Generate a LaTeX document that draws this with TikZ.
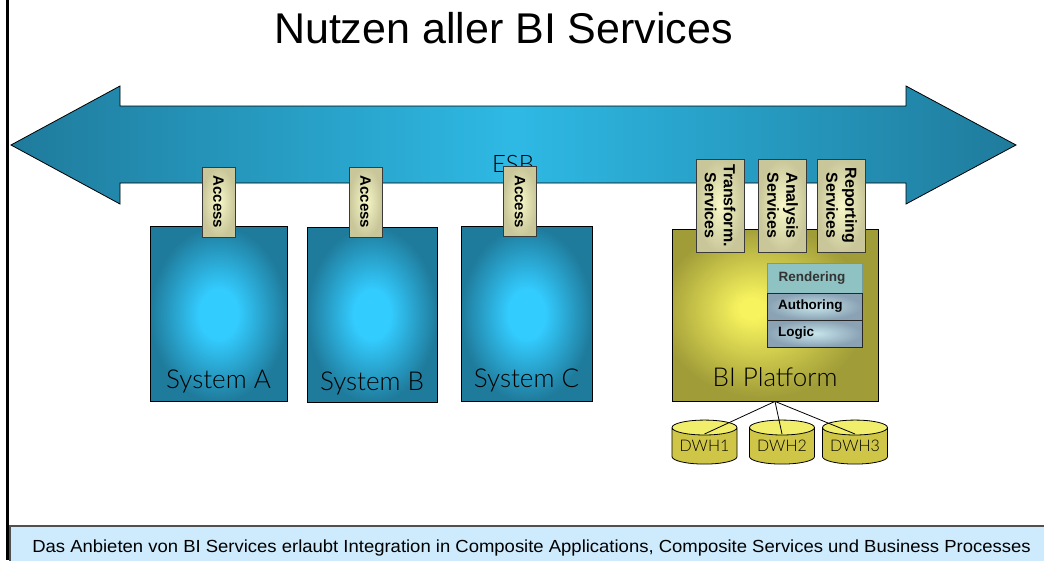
\documentclass[tikz,border=0pt]{standalone}
\usepackage{fontspec}
\setmainfont{Liberation Sans}
\IfFontExistsTF{Lato Light}{\newfontfamily\futfont{Lato Light}}{\newfontfamily\futfont{Lato}}
\usepackage{tikz}
\usetikzlibrary{shapes.geometric}
\definecolor{arrowdark}{HTML}{1F7B9C}
\definecolor{arrowlight}{HTML}{2EB9E4}
\definecolor{sysdark}{HTML}{1F7B9C}
\definecolor{syslight}{HTML}{33CCFF}
\definecolor{accdark}{HTML}{C9C79A}
\definecolor{acclight}{HTML}{F8F8C8}
\definecolor{accline}{HTML}{3A3A3A}
\definecolor{bipdark}{HTML}{A09C38}
\definecolor{biplight}{HTML}{F7F35E}
\definecolor{rendfill}{HTML}{8FC2C2}
\definecolor{layerdark}{HTML}{8AA2B4}
\definecolor{layerlight}{HTML}{C7E6EC}
\definecolor{cylbody}{HTML}{CFC648}
\definecolor{cyltop}{HTML}{F1EE6C}
\definecolor{notefill}{HTML}{CDEBFC}
\definecolor{noteline}{HTML}{505050}
\pgfdeclareradialshading{sysglow}{\pgfpointorigin}{color(0bp)=(syslight); color(7bp)=(syslight); color(25bp)=(sysdark); color(50bp)=(sysdark)}
\pgfdeclareradialshading{bipglow}{\pgfpoint{-6bp}{2bp}}{color(0bp)=(biplight); color(3bp)=(biplight); color(25bp)=(bipdark); color(50bp)=(bipdark)}
\tikzstyle{sys_box} = [rectangle, draw=black, line width=0.8pt, shading=sysglow, minimum height=175pt, inner sep=0pt]
\tikzstyle{sys_lbl} = [anchor=base, font=\futfont\fontsize{26}{30}\selectfont, inner sep=0pt]
\tikzstyle{acc_box} = [rectangle, rotate=-90, draw=accline, line width=0.8pt, inner color=acclight, outer color=accdark, minimum width=70pt, minimum height=33pt, inner sep=0pt, font=\bfseries\fontsize{15}{17}\selectfont]
\tikzstyle{svc_box} = [rectangle, rotate=-90, draw=accline, line width=0.8pt, inner color=acclight, outer color=accdark, minimum width=93pt, minimum height=48pt, inner sep=0pt, align=center, font=\bfseries\fontsize{16}{19}\selectfont]
\tikzstyle{lay_box} = [rectangle, draw=black!85, line width=0.8pt, inner color=layerlight, outer color=layerdark, minimum height=27pt, text width=73pt, inner xsep=11pt, inner ysep=0pt, align=left, font=\bfseries\fontsize{13.5}{15}\selectfont]
\tikzstyle{dwh_cyl} = [cylinder, shape border rotate=90, draw=black, line width=0.8pt, aspect=0.3, cylinder uses custom fill, cylinder body fill=cylbody, cylinder end fill=cyltop, minimum width=65pt, minimum height=44pt, inner sep=0pt, font=\futfont\fontsize{16}{19}\selectfont]

\begin{document}
\begin{tikzpicture}[x=1pt,y=-1pt]
\useasboundingbox (0,0) rectangle (1044,560);
\fill[white] (0,0) rectangle (1044,560);
\draw[line width=2.2pt] (7.5,0) -- (7.5,560);

% title
\node[anchor=base, font=\fontsize{43}{50}\selectfont, inner sep=0pt] (title) at (503.5,43) {Nutzen aller BI Services};

% bus
\draw[line width=0.8pt, left color=arrowdark, right color=arrowdark, middle color=arrowlight]
  (11,145) -- (120,86) -- (120,106) -- (906,106) -- (906,86) -- (1016,145)
  -- (906,204) -- (906,183) -- (120,183) -- (120,204) -- cycle;
\node[anchor=base, font=\futfont\fontsize{24}{28}\selectfont, inner sep=0pt] (esb) at (513,172) {ESB};

% systems
\node[sys_box, minimum width=137pt] (sysA) at (218.5,314) {};
\node[sys_box, minimum width=130pt] (sysB) at (372,314.5) {};
\node[sys_box, minimum width=131pt] (sysC) at (526.5,314) {};
\node[sys_lbl] (lblA) at ([yshift=13pt]sysA.south) {System A};
\node[sys_lbl] (lblB) at ([yshift=12pt]sysB.south) {System B};
\node[sys_lbl] (lblC) at ([yshift=14pt]sysC.south) {System C};
\node[acc_box] (accA) at (218.5,202) {Access};
\node[acc_box] (accB) at (365.5,202) {Access};
\node[acc_box] (accC) at (520,201.5) {Access};

% BI platform
\node[rectangle, draw=black, line width=0.8pt, shading=bipglow, minimum width=206pt, minimum height=172pt] (bip) at (775,315) {};
\node[sys_lbl] (lblBip) at ([yshift=15pt]bip.south) {BI Platform};
\node[svc_box] (trans) at (720,205.5) {Transform.\\Services};
\node[svc_box] (anal) at (782.5,205.5) {Analysis\\Services};
\node[svc_box] (rep) at (841.5,205.5) {Reporting\\Services};
\node[lay_box, draw=rendfill!80!black, inner color=rendfill, outer color=rendfill, text=black!80, minimum height=30pt] (rend) at (815,278) {Rendering};
\node[lay_box] (auth) at (814.5,306.5) {Authoring};
\node[lay_box] (logic) at (814.5,333.5) {Logic};

% data warehouses
\node[dwh_cyl] (dwh1) at (704.5,446) {DWH1};
\node[dwh_cyl] (dwh2) at (782,446) {DWH2};
\node[dwh_cyl] (dwh3) at (855,446) {DWH3};
\draw[line width=0.8pt] (bip.south) -- ([yshift=12pt]dwh1.center);
\draw[line width=0.8pt] (bip.south) -- ([yshift=12pt]dwh2.center);
\draw[line width=0.8pt] (bip.south) -- ([yshift=12pt]dwh3.center);

% note
\draw[draw=noteline, line width=1.5pt, fill=notefill] (10,526) rectangle (1050,566);
\node[anchor=base, font=\fontsize{17.5}{20}\selectfont, inner sep=0pt] (note) at (531.5,552) {\scalebox{1.056}[1]{Das Anbieten von BI Services erlaubt Integration in Composite Applications, Composite Services und Business Processes}};
\end{tikzpicture}
\end{document}
